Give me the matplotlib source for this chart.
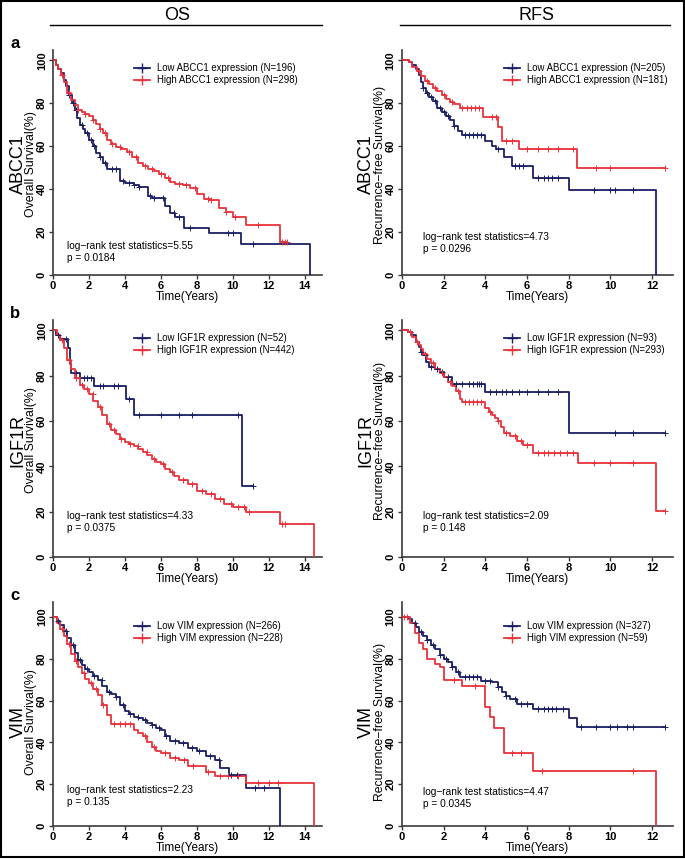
import numpy as np
import matplotlib
matplotlib.use('Agg')
import matplotlib.pyplot as plt
from matplotlib.lines import Line2D

plt.rcParams['font.family'] = ['Liberation Sans', 'DejaVu Sans']

NAVY = '#1b1f63'
RED = '#e8333c'
AXC = '#3a3a3a'

# ---- panel a: ABCC1 ----
os_abcc1_low_t = [0, 0.15, 0.3, 0.45, 0.6, 0.75, 0.9, 1.05, 1.2, 1.35, 1.5, 1.65, 1.8, 2.0, 2.2, 2.4,
                  2.6, 2.8, 3.0, 3.7, 4.0, 4.5, 4.8, 5.3, 5.5, 6.2, 6.5, 6.8, 7.3, 8.65, 10.45, 14.3]
os_abcc1_low_s = [100, 98, 96, 94, 91, 88, 84, 80, 77, 73, 70, 68, 66, 63, 60, 57,
                  55, 52, 49.5, 44, 43, 42, 41, 37, 36, 32, 29, 27, 22, 19.4, 14.3, 0]
os_abcc1_low_c = [0.9, 1.1, 1.3, 1.6, 1.9, 2.1, 2.3, 2.6, 2.9, 3.3, 3.5, 3.9, 4.2, 4.5, 4.8,
                  5.4, 5.6, 6.1, 6.7, 7.0, 7.6, 9.7, 10.0, 11.1]
os_abcc1_high_t = [0, 0.15, 0.3, 0.45, 0.6, 0.8, 1.0, 1.2, 1.4, 1.6, 1.8, 2.0, 2.2, 2.4, 2.6, 2.8,
                   3.0, 3.2, 3.5, 3.8, 4.1, 4.4, 4.7, 5.0, 5.3, 5.6, 5.9, 6.2, 6.5, 6.8, 7.2, 7.6,
                   8.0, 8.4, 8.8, 9.2, 9.6, 10.0, 10.7, 12.6, 13.0]
os_abcc1_high_s = [100, 98, 96, 93, 90, 85, 81.5, 79, 77, 76, 75, 74, 72, 70.5, 68, 66,
                   63, 61, 59.5, 58.5, 57.5, 55, 52, 51, 49.5, 48.5, 47, 45, 43.5, 42.5, 42, 40.5,
                   37.5, 35.5, 35, 31, 29.5, 27, 23.3, 15.5, 15.5]
os_abcc1_high_c = [0.5, 0.9, 1.4, 1.8, 2.2, 2.6, 2.9, 3.3, 3.7, 4.2, 4.6, 5.1, 5.5, 6.0, 6.4,
                   7.0, 7.4, 7.9, 8.6, 8.8, 9.6, 10.1, 11.4, 12.7, 12.9, 13.0]

rfs_abcc1_low_t = [0, 0.35, 0.5, 0.65, 0.8, 0.9, 1.0, 1.15, 1.3, 1.5, 1.7, 1.9, 2.1, 2.3, 2.5,
                   2.7, 2.9, 4.0, 4.3, 4.5, 4.9, 5.3, 6.3, 8.0, 12.2]
rfs_abcc1_low_s = [100, 99, 98, 96, 93, 90, 87, 85, 83, 81, 78, 76, 74, 72, 69.5,
                   67, 65, 62.5, 60, 58.7, 55, 51, 45.3, 39.4, 0]
rfs_abcc1_low_c = [1.0, 1.2, 1.4, 1.6, 1.8, 2.0, 2.2, 2.5, 3.0, 3.2, 3.4, 3.6, 3.8, 4.6,
                   5.4, 5.6, 5.8, 6.5, 6.8, 7.0, 7.2, 7.5, 9.2, 10.0, 10.2, 11.1]
rfs_abcc1_high_t = [0, 0.35, 0.5, 0.7, 0.9, 1.1, 1.3, 1.5, 1.7, 1.9, 2.1, 2.3, 2.5, 2.8,
                    3.9, 4.6, 4.8, 5.6, 8.4, 12.6]
rfs_abcc1_high_s = [100, 99, 97, 95, 92.5, 90.5, 89, 87, 85.5, 84, 82, 80.5, 79.5, 77.7,
                    73.4, 68.8, 62.6, 58.7, 50, 50]
rfs_abcc1_high_c = [0.8, 1.2, 1.6, 2.0, 2.4, 2.9, 3.1, 3.3, 3.5, 3.7, 4.3, 4.5, 5.0, 5.3,
                    6.0, 6.5, 7.0, 7.5, 8.2, 9.3, 10.0, 12.6]

# ---- panel b: IGF1R ----
os_igf1r_low_t = [0, 0.15, 0.4, 0.85, 0.95, 1.0, 1.5, 2.3, 4.05, 4.5, 10.5, 11.1]
os_igf1r_low_s = [100, 98, 96, 92, 85, 81, 78.9, 75.5, 69.6, 62.5, 31.2, 31.2]
os_igf1r_low_c = [0.3, 0.7, 1.3, 1.7, 1.9, 2.1, 2.6, 2.8, 3.4, 3.6, 4.2, 4.8, 6.0, 7.0, 7.7,
                  10.3, 11.1]
os_igf1r_high_t = [0, 0.2, 0.4, 0.6, 0.8, 1.0, 1.25, 1.5, 1.75, 2.0, 2.25, 2.5, 2.75, 3.0,
                   3.25, 3.5, 3.75, 4.0, 4.25, 4.5, 4.75, 5.0, 5.25, 5.5, 5.75, 6.0, 6.25, 6.5,
                   6.75, 7.0, 7.5, 8.0, 8.5, 9.0, 9.5, 10.0, 10.7, 12.6, 14.5]
os_igf1r_high_s = [100, 98, 95.5, 92, 87, 83, 79, 76, 74, 71.8, 69, 66, 62.5, 58.7,
                   56, 54.3, 52, 50.6, 49.8, 49.1, 47.5, 46.2, 44.8, 43.3, 42, 41, 39, 37.4,
                   35.5, 34, 32.3, 29.3, 27.9, 25.7, 23.5, 22, 19.8, 14.7, 0]
os_igf1r_high_c = [0.5, 0.9, 1.3, 1.6, 1.9, 2.2, 2.6, 3.1, 3.4, 3.8, 4.3, 4.7, 5.2, 5.6, 6.1,
                   6.6, 7.2, 7.7, 8.3, 8.8, 9.3, 9.9, 10.3, 10.6, 10.9, 12.7, 12.9]

rfs_igf1r_low_t = [0, 0.3, 0.5, 0.65, 0.8, 0.9, 1.0, 1.15, 1.3, 1.6, 1.8, 2.0, 2.4, 4.0, 8.0, 12.6]
rfs_igf1r_low_s = [100, 99, 97.8, 95, 92.6, 90.5, 88.9, 86, 83.7, 83, 81.4, 79.2, 76.2, 72.8,
                   54.7, 54.7]
rfs_igf1r_low_c = [0.4, 0.9, 1.1, 1.4, 1.7, 1.9, 2.2, 2.6, 2.9, 3.2, 3.4, 3.6, 3.7, 3.8, 4.2,
                   4.5, 4.8, 5.0, 5.3, 5.6, 6.0, 6.5, 7.0, 7.5, 10.2, 11.1, 12.6]
rfs_igf1r_high_t = [0, 0.3, 0.5, 0.65, 0.8, 0.9, 1.0, 1.2, 1.4, 1.6, 1.8, 2.0, 2.2, 2.4, 2.6,
                    2.8, 2.9, 4.0, 4.15, 4.3, 4.45, 4.6, 4.75, 4.9, 5.2, 5.5, 5.8, 6.3, 8.45,
                    12.2, 12.6]
rfs_igf1r_high_s = [100, 99, 97, 95, 93.3, 91.5, 89.6, 87.5, 85.5, 83, 81, 79.2, 77, 75.5, 73,
                    69.5, 68.4, 65.8, 64, 62.8, 61.5, 59.9, 57.5, 54.7, 53.2, 51, 49.5, 45.8, 41.3,
                    20.5, 20.5]
rfs_igf1r_high_c = [0.4, 0.7, 1.1, 1.5, 1.9, 2.3, 2.7, 3.0, 3.2, 3.4, 3.6, 3.8, 4.2, 4.6, 5.0,
                    5.4, 5.7, 6.0, 6.5, 6.8, 7.0, 7.3, 7.6, 7.9, 8.2, 9.2, 10.0, 11.1, 12.6]

# ---- panel c: VIM ----
os_vim_low_t = [0, 0.2, 0.4, 0.6, 0.8, 1.0, 1.2, 1.4, 1.6, 1.8, 2.0, 2.25, 2.5, 2.75, 3.0, 3.25,
                3.5, 3.75, 4.0, 4.25, 4.5, 4.75, 5.0, 5.25, 5.5, 5.75, 6.0, 6.25, 6.5, 7.0, 7.5,
                8.0, 8.5, 9.0, 9.3, 9.8, 10.7, 12.6]
os_vim_low_s = [100, 98, 96, 93.5, 90, 86.5, 83, 79.5, 77, 75, 73.8, 72, 69.8, 67, 64.3, 63,
                61.9, 58, 54.8, 53.5, 52.4, 51.5, 50.8, 49.5, 48.4, 47, 46, 43, 40.5, 39.7, 37.3,
                35.7, 33.3, 31.4, 27.8, 24.6, 18.3, 0]
os_vim_low_c = [0.3, 0.7, 1.1, 1.5, 1.9, 2.3, 2.7, 3.1, 3.5, 3.9, 4.3, 4.7, 5.1, 5.5, 5.9,
                6.3, 6.8, 7.2, 7.7, 8.1, 8.7, 9.2, 9.9, 10.2, 11.2, 11.7]
os_vim_high_t = [0, 0.2, 0.4, 0.6, 0.8, 1.0, 1.2, 1.4, 1.6, 1.8, 2.0, 2.25, 2.5, 2.75, 3.0,
                 3.2, 4.5, 4.75, 5.0, 5.25, 5.5, 5.75, 6.0, 6.5, 7.0, 7.5, 8.5, 9.0, 10.7, 14.5]
os_vim_high_s = [100, 97, 94.5, 91, 87, 82.5, 79, 76, 73, 70.5, 68.3, 65.5, 62.7, 58, 53.2,
                 49, 46, 44.5, 42.9, 40, 38, 36, 34.9, 32.5, 31.7, 28.9, 25.7, 24.1, 20.6, 0]
os_vim_high_c = [0.5, 0.9, 1.3, 1.7, 2.1, 2.4, 2.8, 3.4, 3.7, 4.0, 4.3, 5.1, 5.6, 6.2, 6.8,
                 7.3, 7.8, 8.6, 9.3, 9.7, 10.3, 11.4, 12.0, 12.5]

rfs_vim_low_t = [0, 0.35, 0.5, 0.65, 0.8, 1.0, 1.2, 1.4, 1.6, 1.8, 2.0, 2.2, 2.4, 2.6, 2.8,
                 3.8, 4.3, 4.6, 4.8, 5.0, 5.2, 5.5, 6.3, 8.0, 8.4, 12.6]
rfs_vim_low_s = [100, 99, 97.3, 95, 93, 91, 89, 86.5, 84.5, 82, 80, 78.5, 76, 73.5, 71.2,
                 69.5, 68.8, 66.5, 64, 62, 60.8, 58.5, 56.2, 51.7, 47.5, 47.5]
rfs_vim_low_c = [0.6, 0.9, 1.2, 1.5, 1.8, 2.1, 2.4, 2.7, 3.0, 3.2, 3.4, 3.6, 4.0, 4.2, 4.6,
                 5.0, 5.4, 5.7, 6.0, 6.5, 6.8, 7.0, 7.2, 7.4, 7.7, 8.6, 9.3, 10.0, 10.3, 10.8,
                 11.1, 12.6]
rfs_vim_high_t = [0, 0.4, 0.6, 0.8, 1.0, 1.2, 1.6, 1.8, 2.0, 2.9, 4.0, 4.2, 4.4, 4.9, 6.3, 12.2]
rfs_vim_high_s = [100, 97.3, 92.6, 87.8, 84.7, 79.9, 77.5, 75.9, 70.1, 67.2, 57, 52.2, 46.7,
                  35.1, 26.1, 0]
rfs_vim_high_c = [0.1, 0.25, 2.5, 3.5, 5.3, 5.7, 6.7, 11.1]

genes = ['ABCC1', 'IGF1R', 'VIM']
panel_letters = ['a', 'b', 'c']
os_n = [(196, 298), (52, 442), (266, 228)]
rfs_n = [(205, 181), (93, 293), (327, 59)]
os_stats = [('5.55', '0.0184'), ('4.33', '0.0375'), ('2.23', '0.135')]
rfs_stats = [('4.73', '0.0296'), ('2.09', '0.148'), ('4.47', '0.0345')]

os_curves = [
    ((os_abcc1_low_t, os_abcc1_low_s, os_abcc1_low_c), (os_abcc1_high_t, os_abcc1_high_s, os_abcc1_high_c)),
    ((os_igf1r_low_t, os_igf1r_low_s, os_igf1r_low_c), (os_igf1r_high_t, os_igf1r_high_s, os_igf1r_high_c)),
    ((os_vim_low_t, os_vim_low_s, os_vim_low_c), (os_vim_high_t, os_vim_high_s, os_vim_high_c)),
]
rfs_curves = [
    ((rfs_abcc1_low_t, rfs_abcc1_low_s, rfs_abcc1_low_c), (rfs_abcc1_high_t, rfs_abcc1_high_s, rfs_abcc1_high_c)),
    ((rfs_igf1r_low_t, rfs_igf1r_low_s, rfs_igf1r_low_c), (rfs_igf1r_high_t, rfs_igf1r_high_s, rfs_igf1r_high_c)),
    ((rfs_vim_low_t, rfs_vim_low_s, rfs_vim_low_c), (rfs_vim_high_t, rfs_vim_high_s, rfs_vim_high_c)),
]

W, H = 685, 860


def fx(x):
    return x / W


def fy(y):
    return 1 - y / H


# row layout in pixels: (top, bottom, ylim top)
rows = [(50, 275, 104.8), (320, 557, 104.5), (602, 826, 107.2)]
cols = [(53, 322, 14.95), (402, 673, 13.0)]
# vertical centre (px) of the two-line log-rank note, per row / column
stat_y = [(252, 243), (522, 522), (796, 798)]


def km(ax, curve, color):
    t, s, c = (np.asarray(v, dtype=float) for v in curve)
    ax.step(t, s, where='post', color=color, lw=1.3, zorder=3)
    idx = np.searchsorted(t, c, side='right') - 1
    ax.plot(c, s[idx], ls='none', marker='+', ms=4, mew=0.7, color=color, zorder=4)


fig = plt.figure(figsize=(W / 100, H / 100), dpi=100)

for r, (top, bot, ytop) in enumerate(rows):
    for ci, (left, right, xmax) in enumerate(cols):
        ax = fig.add_axes([fx(left), fy(bot), fx(right - left), (bot - top) / H])
        curves = os_curves[r] if ci == 0 else rfs_curves[r]
        km(ax, curves[0], NAVY)
        km(ax, curves[1], RED)
        ax.set_xlim(0, xmax)
        ax.set_ylim(0, ytop)
        ax.set_xticks(np.arange(0, 15 if ci == 0 else 13, 2))
        ax.set_yticks(np.arange(0, 101, 20))
        for sp in ['top', 'right']:
            ax.spines[sp].set_visible(False)
        for sp in ['left', 'bottom']:
            ax.spines[sp].set_color(AXC)
            ax.spines[sp].set_linewidth(1.2)
        ax.tick_params(direction='out', length=3, width=1, color=AXC, pad=1.5,
                       labelsize=8)
        for lab in ax.get_xticklabels():
            lab.set_fontweight('bold')
        for lab in ax.get_yticklabels():
            lab.set_fontweight('bold')
            lab.set_rotation(90)
            lab.set_va('center')
        ax.set_xlabel('Time(Years)', fontsize=8.5, labelpad=-0.5)

        n = os_n[r] if ci == 0 else rfs_n[r]
        stat = os_stats[r] if ci == 0 else rfs_stats[r]
        handles = [Line2D([], [], color=NAVY, lw=1.3, marker='+', ms=7, mew=1),
                   Line2D([], [], color=RED, lw=1.3, marker='+', ms=7, mew=1)]
        labels = ['Low %s expression (N=%d)' % (genes[r], n[0]),
                  'High %s expression (N=%d)' % (genes[r], n[1])]
        lx = 134 if ci == 0 else 504
        ly = top + 13 if r != 2 else top + 19
        ax.legend(handles, labels, loc='upper left', bbox_to_anchor=(fx(lx), fy(ly)),
                  bbox_transform=fig.transFigure, frameon=False, fontsize=6.9,
                  handlelength=1.7, handletextpad=0.7, labelspacing=0.2,
                  borderpad=0, borderaxespad=0)

        tx = 67 if ci == 0 else 423
        fig.text(fx(tx), fy(stat_y[r][ci]), 'log\u2212rank test statistics=%s\np = %s' % stat,
                 fontsize=7.3, va='center', ha='left', linespacing=1.2)

        ylab = 'Overall Survival(%)' if ci == 0 else 'Recurrence\u2212free Survival(%)'
        lab_x = 31 if ci == 0 else 380
        gene_x = 18 if ci == 0 else 366
        yc = (top + bot) / 2 + (8 if r == 2 else 2)
        fig.text(fx(lab_x), fy(yc), ylab, rotation=90, fontsize=8.8, ha='center', va='center')
        fig.text(fx(gene_x), fy(yc), genes[r], rotation=90, fontsize=13, ha='center', va='center')

    fig.text(fx(15), fy(top - 7), panel_letters[r], fontsize=12, fontweight='bold',
             ha='center', va='center')

# column headers with rule underneath
fig.text(fx(177), fy(15), 'OS', fontsize=13, ha='center', va='center')
fig.text(fx(537), fy(15), 'RFS', fontsize=13, ha='center', va='center')
fig.add_artist(Line2D([fx(50), fx(322)], [fy(25), fy(25)], color='black', lw=1))
fig.add_artist(Line2D([fx(400), fx(670)], [fy(25), fy(25)], color='black', lw=1))

# outer frame
fig.add_artist(plt.Rectangle((fx(1), fy(857)), fx(683), (856) / H, fill=False,
                             ec='black', lw=1.5, transform=fig.transFigure))

fig.savefig('out.png', dpi=100)
